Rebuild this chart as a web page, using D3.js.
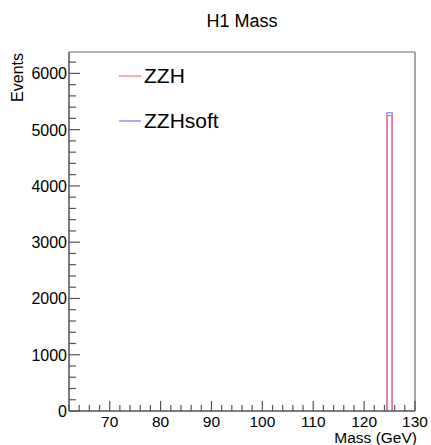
<!DOCTYPE html>
<html><head><meta charset="utf-8">
<script src="https://cdn.jsdelivr.net/npm/d3@7"></script>
<style>body{margin:0;background:#fff}svg{display:block}text{font-family:"Liberation Sans",Arial,sans-serif}</style>
</head><body>
<script>
// data
const binLow = [124.5];
const binWidth = 1;
const zzhCounts = [5250];
const zzhSoftCounts = [5300];
const xTicks = [70, 80, 90, 100, 110, 120, 130];
const yTicks = [0, 1000, 2000, 3000, 4000, 5000, 6000];
const seriesNames = ["ZZH", "ZZHsoft"];
const seriesColors = ["#ff7070", "#7070ff"];

const W = 431, H = 445;
const m = {l: 69, r: 16, t: 52, b: 34};
const svg = d3.select("body").append("svg").attr("width", W).attr("height", H);
const x = d3.scaleLinear().domain([62, 130]).range([m.l, W - m.r]);
const y = d3.scaleLinear().domain([0, 6380]).range([H - m.b, m.t]);

// frame
svg.append("line").attr("x1", x(62)).attr("x2", x(130)).attr("y1", y(6380)).attr("y2", y(6380)).attr("stroke", "#999").attr("stroke-width", 1.5);
svg.append("line").attr("x1", x(130)).attr("x2", x(130)).attr("y1", y(6380)).attr("y2", y(0)).attr("stroke", "#888").attr("stroke-width", 1.5);

// histograms
function histPath(counts) {
  const p = d3.path();
  counts.forEach((c, i) => {
    p.moveTo(x(binLow[i]), y(0));
    p.lineTo(x(binLow[i]), y(c));
    p.lineTo(x(binLow[i] + binWidth), y(c));
    p.lineTo(x(binLow[i] + binWidth), y(0));
  });
  return p.toString();
}
svg.append("path").attr("d", histPath(zzhSoftCounts)).attr("fill", "none").attr("stroke", seriesColors[1]).attr("stroke-width", 1.2);
svg.append("path").attr("d", histPath(zzhCounts)).attr("fill", "none").attr("stroke", seriesColors[0]).attr("stroke-width", 1.2);

// x axis
const xAx = svg.append("g").attr("transform", `translate(0,${y(0)})`);
xAx.append("line").attr("x1", x(62)).attr("x2", x(130)).attr("stroke", "#555").attr("stroke-width", 1.5);
const xMinor = d3.range(62, 130.01, 2);
xAx.selectAll(".xm").data(xMinor).join("line").attr("x1", d => x(d)).attr("x2", d => x(d)).attr("y1", 0).attr("y2", d => d % 10 === 0 ? -10 : -6).attr("stroke", "#555").attr("stroke-width", 1.2);
xAx.selectAll(".xl").data(xTicks).join("text").attr("x", d => x(d)).attr("y", 16).attr("text-anchor", "middle").attr("font-size", 15.5).text(d => d);
svg.append("text").attr("x", x(130) + 2).attr("y", 443).attr("text-anchor", "end").attr("font-size", 15.5).text("Mass (GeV)");

// y axis
const yAx = svg.append("g").attr("transform", `translate(${x(62)},0)`);
yAx.append("line").attr("y1", y(0)).attr("y2", y(6380)).attr("stroke", "#555").attr("stroke-width", 1.5);
const yMinor = d3.range(0, 6380, 200);
yAx.selectAll(".ym").data(yMinor).join("line").attr("y1", d => y(d)).attr("y2", d => y(d)).attr("x1", 0).attr("x2", d => d % 1000 === 0 ? 11 : 7).attr("stroke", "#555").attr("stroke-width", 1.2);
yAx.selectAll(".yl").data(yTicks).join("text").attr("x", -2).attr("y", d => y(d) + 6).attr("text-anchor", "end").attr("font-size", 16).text(d => d);
svg.append("text").attr("transform", "translate(23,53) rotate(-90)").attr("text-anchor", "end").attr("font-size", 16).text("Events");

// title
svg.append("text").attr("x", 242).attr("y", 27).attr("text-anchor", "middle").attr("font-size", 18).text("H1 Mass");

// legend
const legY = [76, 121];
seriesNames.forEach((n, i) => {
  svg.append("line").attr("x1", 119).attr("x2", 141).attr("y1", legY[i]).attr("y2", legY[i]).attr("stroke", seriesColors[i]).attr("stroke-width", 1.2);
  svg.append("text").attr("x", 144).attr("y", legY[i] + 7).attr("font-size", 21).text(n);
});
</script>
</body></html>
